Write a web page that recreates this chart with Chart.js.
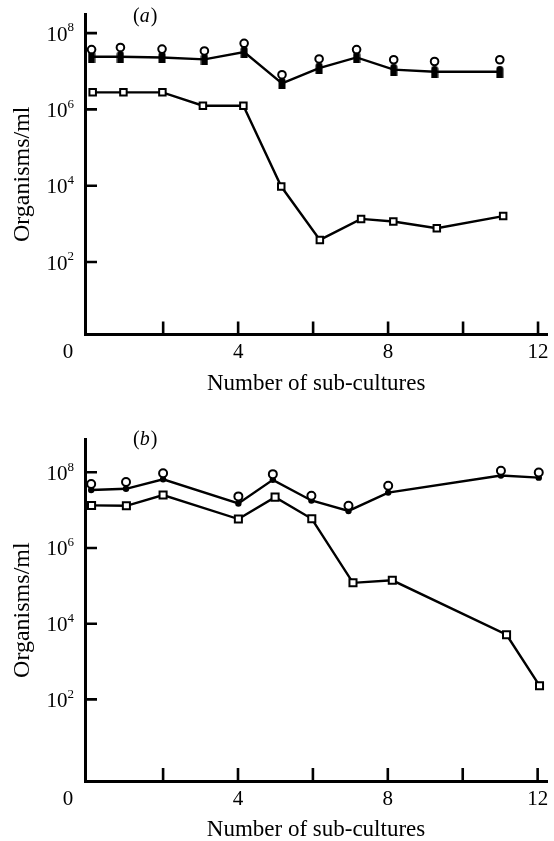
<!DOCTYPE html>
<html>
<head>
<meta charset="utf-8">
<title>Organisms/ml vs number of sub-cultures</title>
<script src="https://cdn.jsdelivr.net/npm/chart.js@4.4.1/dist/chart.umd.min.js"></script>
<style>
  html, body { margin: 0; padding: 0; background: #fff; overflow: hidden; }
  #wrap { position: relative; width: 554px; height: 841px; }
  canvas { position: absolute; left: 0; }
  #chartA { top: 0; }
  #chartB { top: 420px; }
</style>
</head>
<body>
<div id="wrap">
  <canvas id="chartA" width="554" height="420"></canvas>
  <canvas id="chartB" width="554" height="441"></canvas>
</div>
<script>
// panel (a) — open circles and filled marks share x, open squares have their own
var A_PAIR_X      = [0.09, 0.86, 1.97, 3.10, 4.16, 5.17, 6.16, 7.16, 8.15, 9.24, 10.98];
var A_OPEN_CIRCLE = [3.7e7, 4.2e7, 3.8e7, 3.4e7, 5.4e7, 8.1e6, 2.1e7, 3.7e7, 2.0e7, 1.8e7, 2.0e7];
var A_FILLED      = [2.4e7, 2.4e7, 2.3e7, 2.05e7, 3.2e7, 4.8e6, 1.2e7, 2.3e7, 1.1e7, 9.7e6, 9.7e6];
var A_SQUARE_X    = [0.12, 0.94, 1.98, 3.06, 4.14, 5.15, 6.18, 7.28, 8.14, 9.30, 11.07];
var A_SQUARE      = [2.8e6, 2.8e6, 2.8e6, 1.25e6, 1.25e6, 9.5e3, 380, 1.35e3, 1.15e3, 770, 1.6e3];

// panel (b)
var B_PAIR_X      = [0.08, 1.01, 2.0, 4.01, 4.93, 5.96, 6.95, 8.01, 11.02, 12.03];
var B_OPEN_CIRCLE = [4.9e7, 5.5e7, 9.4e7, 2.3e7, 8.9e7, 2.4e7, 1.3e7, 4.4e7, 1.1e8, 9.8e7];
var B_FILLED      = [3.4e7, 3.65e7, 6.5e7, 1.5e7, 6.3e7, 1.8e7, 9.5e6, 2.9e7, 8.2e7, 7.2e7];
var B_SQUARE_X    = [0.09, 1.02, 2.0, 4.01, 4.99, 5.97, 7.07, 8.12, 11.17, 12.05];
var B_SQUARE      = [1.33e7, 1.3e7, 2.5e7, 5.8e6, 2.2e7, 5.9e6, 1.2e5, 1.4e5, 5.1e3, 230];

var X_TICKS   = [2, 4, 6, 8, 10, 12];   // inward tick marks
var X_LABELS  = [0, 4, 8, 12];
var Y_DECADES = [2, 4, 6, 8];           // 10^k

var INK = '#000';
var SERIF = '"Liberation Serif", "DejaVu Serif", serif';
Chart.defaults.font.family = SERIF;
Chart.defaults.color = INK;

function pts(xs, ys) {
  return xs.map(function (x, i) { return { x: x, y: ys[i] }; });
}

// the solid marks in (a) are tall blobs, not squares
function tallMark() {
  var c = document.createElement('canvas');
  c.width = 8; c.height = 12;
  var g = c.getContext('2d');
  g.fillStyle = INK;
  g.beginPath();
  g.moveTo(0.5, 12); g.lineTo(0.5, 3.5);
  g.arc(4, 3.5, 3.5, Math.PI, 0);
  g.lineTo(7.5, 12); g.closePath();
  g.fill();
  return c;
}

/** Inward ticks, tick labels with superscripts, and the panel letter. */
var axisDeco = {
  id: 'axisDeco',
  afterDraw: function (chart, args, o) {
    var ctx = chart.ctx, xs = chart.scales.x, ys = chart.scales.y, a = chart.chartArea;
    ctx.save();
    ctx.strokeStyle = INK; ctx.fillStyle = INK;
    ctx.lineWidth = 2.6; ctx.lineCap = 'butt';
    ctx.beginPath();
    X_TICKS.forEach(function (v) {
      var px = xs.getPixelForValue(v);
      ctx.moveTo(px, a.bottom); ctx.lineTo(px, a.bottom - 13);
    });
    Y_DECADES.forEach(function (k) {
      var py = ys.getPixelForValue(Math.pow(10, k));
      ctx.moveTo(a.left, py); ctx.lineTo(a.left + 12, py);
    });
    ctx.stroke();

    ctx.textBaseline = 'middle';
    ctx.textAlign = 'center';
    ctx.font = '21px ' + SERIF;
    X_LABELS.forEach(function (v) {
      var px = v === 0 ? a.left - 17 : xs.getPixelForValue(v);
      ctx.fillText(String(v), px, a.bottom + 18);
    });

    Y_DECADES.forEach(function (k) {
      var py = ys.getPixelForValue(Math.pow(10, k));
      ctx.textAlign = 'right';
      ctx.font = '21px ' + SERIF;
      ctx.fillText('10', a.left - 17.5, py + 2);
      ctx.textAlign = 'left';
      ctx.font = '13px ' + SERIF;
      ctx.fillText(String(k), a.left - 17.5, py - 5);
    });

    // panel letter: upright brackets, italic letter
    ctx.textAlign = 'left';
    var x = o.letterX;
    ctx.font = '20px ' + SERIF;
    ctx.fillText('(', x, o.letterY); x += ctx.measureText('(').width;
    ctx.font = 'italic 20px ' + SERIF;
    ctx.fillText(o.letter, x, o.letterY); x += ctx.measureText(o.letter).width + 1;
    ctx.font = '20px ' + SERIF;
    ctx.fillText(')', x, o.letterY);
    ctx.restore();
  }
};

function panel(id, cfg) {
  var datasets = [
    { label: 'open circles', data: pts(cfg.pairX, cfg.circle), showLine: false,
      pointStyle: 'circle', pointRadius: cfg.circleR, pointBackgroundColor: '#fff',
      pointBorderColor: INK, pointBorderWidth: 2 },
    { label: 'filled', data: pts(cfg.pairX, cfg.filled), showLine: true,
      borderColor: INK, borderWidth: 2.4, tension: 0,
      pointStyle: cfg.filledStyle, pointRadius: cfg.filledR,
      pointBackgroundColor: INK, pointBorderColor: INK, pointBorderWidth: 0 },
    { label: 'open squares', data: pts(cfg.squareX, cfg.square), showLine: true,
      borderColor: INK, borderWidth: 2.4, tension: 0,
      pointStyle: 'rect', pointRadius: cfg.squareR, pointBackgroundColor: '#fff',
      pointBorderColor: INK, pointBorderWidth: 2 }
  ];
  return new Chart(document.getElementById(id), {
    type: 'scatter',
    data: { datasets: datasets },
    plugins: [axisDeco],
    options: {
      responsive: false, animation: false, devicePixelRatio: 1,
      layout: { padding: { top: cfg.top, right: 1.5, left: 0, bottom: 0 } },
      plugins: {
        legend: { display: false }, tooltip: { enabled: false },
        axisDeco: { letter: cfg.letter, letterX: 133, letterY: cfg.letterY }
      },
      scales: {
        x: {
          type: 'linear', min: -0.085, max: 12.25,
          grid: { drawOnChartArea: false, drawTicks: false },
          border: { display: true, width: 3, color: INK },
          ticks: { display: false },
          title: { display: true, text: 'Number of sub-cultures',
                   font: { size: 23 }, padding: { top: 0, bottom: cfg.xTitlePad } },
          afterFit: function (s) { s.height = cfg.xAxisH; }
        },
        y: {
          type: 'logarithmic', min: cfg.yMin, max: cfg.yMax,
          grid: { drawOnChartArea: false, drawTicks: false },
          border: { display: true, width: 3, color: INK },
          ticks: { display: false },
          title: { display: true, text: 'Organisms/ml',
                   font: { size: 24 }, padding: { top: 8.6, bottom: 0 } },
          afterFit: function (s) { s.width = 85; }
        }
      }
    }
  });
}

panel('chartA', {
  pairX: A_PAIR_X, circle: A_OPEN_CIRCLE, filled: A_FILLED,
  squareX: A_SQUARE_X, square: A_SQUARE,
  circleR: 3.8, filledStyle: tallMark(), filledR: 4, squareR: 4.6,
  top: 14, xAxisH: 85.5, xTitlePad: 22.7,
  yMin: Math.pow(10, 0.1), yMax: Math.pow(10, 8.5),
  letter: 'a', letterY: 16.5
});

panel('chartB', {
  pairX: B_PAIR_X, circle: B_OPEN_CIRCLE, filled: B_FILLED,
  squareX: B_SQUARE_X, square: B_SQUARE,
  circleR: 4, filledStyle: 'circle', filledR: 3.2, squareR: 5,
  top: 19.3, xAxisH: 80, xTitlePad: 17.2,
  yMin: Math.pow(10, -0.13), yMax: Math.pow(10, 8.87),
  letter: 'b', letterY: 20
});
</script>
</body>
</html>
